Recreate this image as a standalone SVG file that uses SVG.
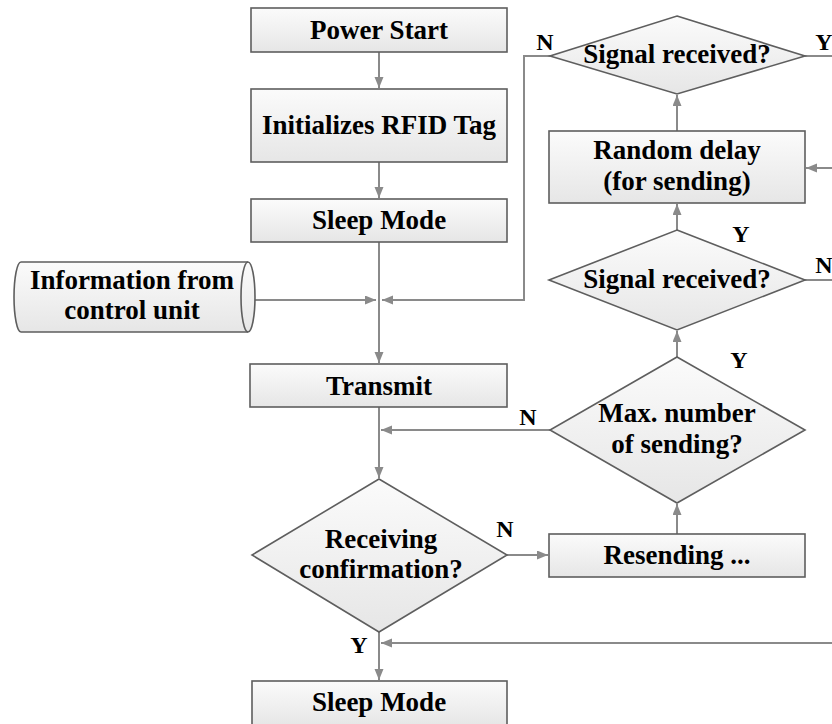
<svg xmlns="http://www.w3.org/2000/svg" width="832" height="724" viewBox="0 0 832 724">
  <defs>
    <linearGradient id="g" x1="0" y1="0" x2="0" y2="1">
      <stop offset="0" stop-color="#fbfbfb"/>
      <stop offset="1" stop-color="#e6e6e6"/>
    </linearGradient>
    <marker id="ah" markerUnits="userSpaceOnUse" markerWidth="12" markerHeight="10" refX="11" refY="4.5" orient="auto">
      <path d="M0,0 L11,4.5 L0,9 Z" fill="#8a8a8a"/>
    </marker>
    <style>
      .n { fill: url(#g); stroke: #5e5e5e; stroke-width: 1.6; }
      .t { font-family: "Liberation Serif", "Times New Roman", serif; font-weight: bold; font-size: 27px; fill: #000; text-anchor: middle; }
      .l { font-family: "Liberation Serif", "Times New Roman", serif; font-weight: bold; font-size: 24px; fill: #000; text-anchor: middle; }
      .c { fill: none; stroke: #8a8a8a; stroke-width: 2; }
      .a { marker-end: url(#ah); }
    </style>
  </defs>

  <g id="connectors">
    <path class="c a" d="M379,52 V88"/>
    <path class="c a" d="M379,162 V198"/>
    <path class="c a" d="M379,242 V363"/>
    <path class="c a" d="M255,300 H376"/>
    <path class="c a" d="M550,56 H524 V300 H382"/>
    <path class="c a" d="M379,407 V478"/>
    <path class="c a" d="M550,430 H381"/>
    <path class="c a" d="M507,555 H548"/>
    <path class="c a" d="M677,534 V504"/>
    <path class="c a" d="M677,357 V331"/>
    <path class="c a" d="M677,230 V204"/>
    <path class="c a" d="M677,131 V95"/>
    <path class="c" d="M805,56 H832"/>
    <path class="c a" d="M832,168 H806"/>
    <path class="c" d="M805,280 H832"/>
    <path class="c a" d="M832,643 H381"/>
    <path class="c a" d="M379,632 V680"/>
  </g>

  <g id="power-start">
    <rect class="n" x="251" y="8" width="256" height="44"/>
    <text class="t" x="379" y="39">Power Start</text>
  </g>
  <g id="init-rfid">
    <rect class="n" x="251" y="89" width="256" height="73"/>
    <text class="t" x="379" y="134">Initializes RFID Tag</text>
  </g>
  <g id="sleep-mode-1">
    <rect class="n" x="251" y="199" width="256" height="43"/>
    <text class="t" x="379" y="229">Sleep Mode</text>
  </g>
  <g id="info-control-unit">
    <path class="n" d="M21,262 H248 A7,35 0 0 1 248,332 H21 A7,35 0 0 1 21,262 Z"/>
    <path fill="none" stroke="#5e5e5e" stroke-width="1.6" d="M248,262 A7,35 0 0 0 248,332"/>
    <text class="t" x="132" y="289">Information from</text>
    <text class="t" x="132" y="319">control unit</text>
  </g>
  <g id="transmit">
    <rect class="n" x="250" y="364" width="257" height="43"/>
    <text class="t" x="379" y="395">Transmit</text>
  </g>
  <g id="receiving-confirmation">
    <polygon class="n" points="379,479 507,555 379,632 252,555"/>
    <text class="t" x="381" y="548">Receiving</text>
    <text class="t" x="381" y="578">confirmation?</text>
  </g>
  <g id="sleep-mode-2">
    <rect class="n" x="252" y="681" width="255" height="45"/>
    <text class="t" x="379" y="711">Sleep Mode</text>
  </g>
  <g id="resending">
    <rect class="n" x="549" y="534" width="256" height="43"/>
    <text class="t" x="677" y="564">Resending ...</text>
  </g>
  <g id="max-sending">
    <polygon class="n" points="677,357 805,430 677,503 550,430"/>
    <text class="t" x="677" y="422">Max. number</text>
    <text class="t" x="677" y="453">of sending?</text>
  </g>
  <g id="signal-received-2">
    <polygon class="n" points="677,230 805,280 677,330 549,280"/>
    <text class="t" x="677" y="288">Signal received?</text>
  </g>
  <g id="random-delay">
    <rect class="n" x="549" y="131" width="256" height="72"/>
    <text class="t" x="677" y="159">Random delay</text>
    <text class="t" x="677" y="190">(for sending)</text>
  </g>
  <g id="signal-received-1">
    <polygon class="n" points="677,16 805,56 677,94 550,56"/>
    <text class="t" x="677" y="63">Signal received?</text>
  </g>

  <g id="labels">
    <text class="l" x="545" y="50">N</text>
    <text class="l" x="824" y="50">Y</text>
    <text class="l" x="741" y="242">Y</text>
    <text class="l" x="824" y="273">N</text>
    <text class="l" x="739" y="368">Y</text>
    <text class="l" x="528" y="425">N</text>
    <text class="l" x="505" y="537">N</text>
    <text class="l" x="359" y="653">Y</text>
  </g>
</svg>
